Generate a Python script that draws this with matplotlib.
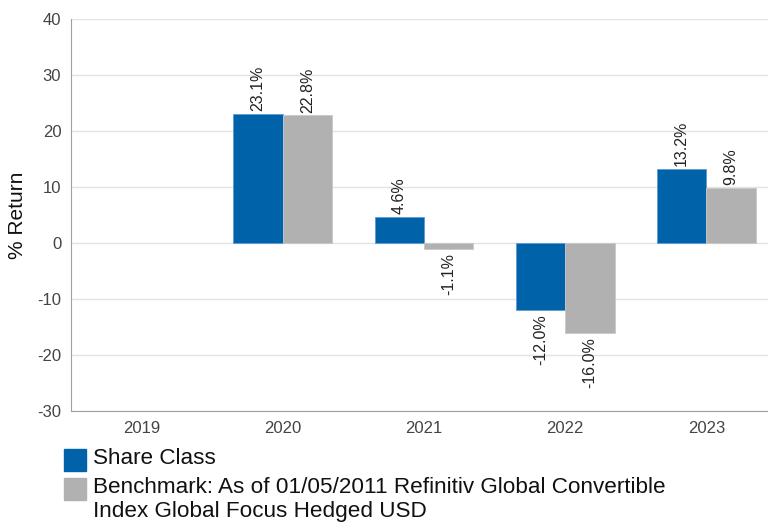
import matplotlib.pyplot as plt
import numpy as np
from matplotlib.patches import Rectangle

plt.rcParams["font.family"] = ["Liberation Sans", "DejaVu Sans"]
plt.rcParams["axes.unicode_minus"] = False

# Data
years = ["2019", "2020", "2021", "2022", "2023"]
share_class = [np.nan, 23.1, 4.6, -12.0, 13.2]
benchmark = [np.nan, 22.8, -1.1, -16.0, 9.8]
series_names = [
    "Share Class",
    "Benchmark: As of 01/05/2011 Refinitiv Global Convertible\nIndex Global Focus Hedged USD",
]
colors = ["#0063a9", "#b1b1b1"]

W, H = 768, 523
fig = plt.figure(figsize=(W / 100, H / 100), dpi=100)
ax = fig.add_axes([71 / W, 1 - 411 / H, 1 - 71 / W, (411 - 19) / H])

x = np.arange(len(years))
width = 0.35
bars_a = ax.bar(x - width / 2, share_class, width, color=colors[0],
                edgecolor="#5b9bd5", linewidth=0.6, zorder=3)
bars_b = ax.bar(x + width / 2, benchmark, width, color=colors[1],
                edgecolor="#c8c8c8", linewidth=0.6, zorder=3)

# Value labels, rotated
for bars, vals in ((bars_a, share_class), (bars_b, benchmark)):
    for b, v in zip(bars, vals):
        if np.isnan(v):
            continue
        xc = b.get_x() + b.get_width() / 2
        off = 2 if v >= 0 else -3
        ax.annotate(f"{v:.1f}%", (xc, v), xytext=(0, off), textcoords="offset points",
                    rotation=90, ha="center", va="bottom" if v >= 0 else "top",
                    fontsize=11.5, color="#222222")

ax.set_ylim(-30, 40)
ax.set_yticks(np.arange(-30, 41, 10))
ax.set_xlim(-0.5, -0.5 + (W - 71) / 141.2)
ax.set_xticks(x)
ax.set_xticklabels(years)
ax.tick_params(axis="both", length=0, labelsize=12, labelcolor="#444444")
ax.tick_params(axis="x", pad=7)
ax.tick_params(axis="y", pad=7)
ax.grid(axis="y", color="#e3e3e3", linewidth=1, zorder=0)
ax.set_axisbelow(True)
for side in ("top", "right"):
    ax.spines[side].set_visible(False)
for side in ("left", "bottom"):
    ax.spines[side].set_color("#a0a0a0")
ax.set_ylabel("% Return", fontsize=15, color="#111111")
ax.yaxis.set_label_coords(-44 / 697, 0.5)

# Legend drawn by hand
rows = [449, 478]
for c, name, top in zip(colors, series_names, rows):
    fig.patches.append(Rectangle((64 / W, 1 - (top + 22) / H), 22 / W, 22 / H,
                                 transform=fig.transFigure, color=c))
    fig.text(93 / W, 1 - (top - 1) / H, name, fontsize=16.2, va="top", ha="left",
             color="#111111", linespacing=1.2)

fig.savefig("out.png", dpi=100)
